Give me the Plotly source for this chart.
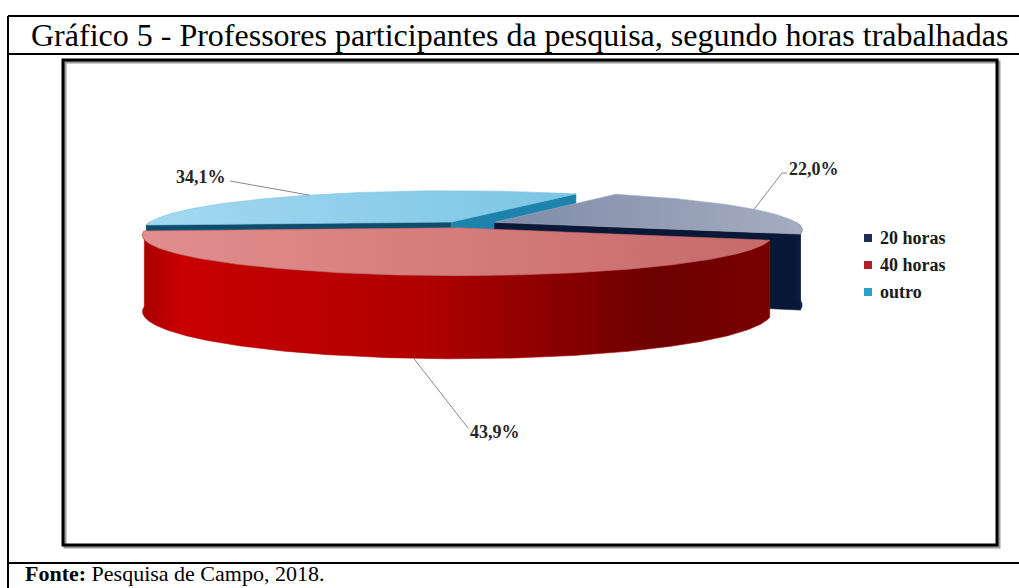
import numpy as np
import plotly.graph_objects as go

# ---- data -------------------------------------------------------------
categories = ["20 horas", "40 horas", "outro"]
shares = [22.0, 43.9, 34.1]          # percent of teachers
title_text = "Gráfico 5 - Professores participantes da pesquisa, segundo horas trabalhadas"
source_text = "<b>Fonte:</b> Pesquisa de Campo, 2018."

# ---- styling ----------------------------------------------------------
W, H = 1019, 588
FONT = "Liberation Serif, Times New Roman, serif"

top_colors = {
    "20 horas": ["#7f8aa6", "#a4adc2"],
    "40 horas": ["#e28e8e", "#c66a6a"],
    "outro": ["#a2d9f0", "#7cc5e5"],
}
wall_colors = {
    "20 horas": [[0, "#0b1a3e"], [1, "#0d1d44"]],
    "40 horas": [[0, "#a80000"], [0.06, "#c80000"], [0.45, "#b00000"],
                 [0.82, "#6c0000"], [1, "#7a0000"]],
    "outro": [[0, "#0f4f6e"], [1, "#0f4f6e"]],
}
face_colors = {
    "20 horas": ["#0a1838", "#0a1838"],
    "40 horas": ["#8a0000", "#8a0000"],
    "outro": ["#0e4e6c", "#1d83ab"],
}
legend_colors = {"20 horas": "#1e2c5a", "40 horas": "#b0202a", "outro": "#2aa0c8"}

# 3-D pie projection parameters (pixels)
CX, CY = 461, 224
RX, RY = 304, 37.7
PERSP = 0.18
DEPTH = 74
WALL_PERSP = 0.10
PULL = {"20 horas": 0.12, "40 horas": 0.10, "outro": 0.06}
START_ANGLE = 28.3  # degrees, clockwise from the back of the disc

# label anchors (text position) for each slice
label_pos = {"20 horas": (787, 169), "40 horas": (468, 432), "outro": (228, 177)}
label_anchor = {"20 horas": "left", "40 horas": "left", "outro": "right"}


def proj(X, Z, h=0.0):
    s = 1.0 / (1.0 + PERSP * Z)
    sh = 1.0 / (1.0 + WALL_PERSP * Z)
    return CX + RX * X * s, CY - RY * Z * s + h * sh


def poly(points):
    xs = [p[0] for p in points] + [points[0][0]]
    ys = [p[1] for p in points] + [points[0][1]]
    return xs, ys


fig = go.Figure()


def add_fill(xs, ys, colorscale=None, color=None):
    kw = dict(x=xs, y=ys, mode="lines", fill="toself",
              line=dict(width=0.6, color=color or colorscale[len(colorscale) // 2][1]),
              hoverinfo="skip", showlegend=False)
    if colorscale is not None:
        kw["fillgradient"] = dict(type="horizontal", colorscale=colorscale)
        kw["fillcolor"] = colorscale[0][1]
    else:
        kw["fillcolor"] = color
    fig.add_trace(go.Scatter(**kw))


total = sum(shares)
angles = []
a0 = START_ANGLE
for v in shares:
    a1 = a0 + 360.0 * v / total
    angles.append((a0, a1))
    a0 = a1

geo = {}
for cat, (p1, p2) in zip(categories, angles):
    mid = np.radians((p1 + p2) / 2)
    X0, Z0 = PULL[cat] * np.sin(mid), PULL[cat] * np.cos(mid)
    geo[cat] = (p1, p2, X0, Z0, mid)


def rim(cat, phi_deg, h=0.0):
    p1, p2, X0, Z0, _ = geo[cat]
    r = np.radians(phi_deg)
    return proj(X0 + np.sin(r), Z0 + np.cos(r), h)


def center(cat, h=0.0):
    _, _, X0, Z0, _ = geo[cat]
    return proj(X0, Z0, h)


# back slices first, front slice last
draw_order = ["outro", "20 horas", "40 horas"]
for cat in draw_order:
    p1, p2, X0, Z0, mid = geo[cat]
    # radial faces that turn toward the viewer
    if np.cos(np.radians(p1 - 90)) < 0:
        pts = [center(cat), rim(cat, p1), rim(cat, p1, DEPTH), center(cat, DEPTH)]
        add_fill(*poly(pts), color=face_colors[cat][0])
    if np.cos(np.radians(p2 + 90)) < 0:
        pts = [center(cat), rim(cat, p2), rim(cat, p2, DEPTH), center(cat, DEPTH)]
        add_fill(*poly(pts), color=face_colors[cat][1])
    # curved outer wall on the front half
    phis = np.linspace(p1, p2, 400)
    vis = np.cos(np.radians(phis)) < 0
    runs, cur = [], []
    for ph, v in zip(phis, vis):
        if v:
            cur.append(ph)
        elif cur:
            runs.append(cur)
            cur = []
    if cur:
        runs.append(cur)
    for run in runs:
        if len(run) < 2:
            continue
        top = [rim(cat, ph) for ph in run]
        bot = [rim(cat, ph, DEPTH) for ph in run[::-1]]
        add_fill(*poly(top + bot), colorscale=wall_colors[cat])
    # top face
    arc = [rim(cat, ph) for ph in np.linspace(p1, p2, 300)]
    c1, c2 = top_colors[cat]
    add_fill(*poly([center(cat)] + arc), colorscale=[[0, c1], [1, c2]])

# value labels with leader lines
annotations = []
for cat, v in zip(categories, shares):
    p1, p2, X0, Z0, mid = geo[cat]
    md = np.degrees(mid)
    h = DEPTH if np.cos(mid) < 0 else 0.0
    sx, sy = rim(cat, md, h)
    tx, ty = label_pos[cat]
    if cat == "20 horas":
        lx, ly = [sx, tx - 5, tx], [sy, ty + 4, ty + 4]
    elif cat == "outro":
        lx, ly = [sx, tx + 2], [sy, ty + 4]
    else:
        lx, ly = [sx, tx], [sy, ty - 4]
    fig.add_trace(go.Scatter(x=lx, y=ly, mode="lines",
                             line=dict(color="#8a8a8a", width=1),
                             hoverinfo="skip", showlegend=False))
    annotations.append(dict(x=tx, y=ty, text="<b>" + f"{v:.1f}%".replace(".", ",") + "</b>",
                            showarrow=False, xanchor=label_anchor[cat], yanchor="middle",
                            font=dict(family=FONT, size=18, color="#262626")))

# legend
leg_x, leg_y0, leg_dy = 868, 238, 27
fig.add_trace(go.Scatter(
    x=[leg_x] * len(categories),
    y=[leg_y0 + i * leg_dy for i in range(len(categories))],
    mode="markers",
    marker=dict(symbol="square", size=8, color=[legend_colors[c] for c in categories]),
    hoverinfo="skip", showlegend=False))
for i, cat in enumerate(categories):
    annotations.append(dict(x=leg_x + 10, y=leg_y0 + i * leg_dy, text="<b>" + cat + "</b>",
                            showarrow=False, xanchor="left", yanchor="middle",
                            font=dict(family=FONT, size=18, color="#1a1a1a")))

# title and source
annotations.append(dict(x=519.5, y=35, text=title_text, showarrow=False,
                        xanchor="center", yanchor="middle",
                        font=dict(family=FONT, size=32, color="black")))
annotations.append(dict(x=23, y=588, text=source_text, showarrow=False,
                        xanchor="left", yanchor="bottom",
                        font=dict(family=FONT, size=22, color="black")))

shapes = [
    # document frame
    dict(type="line", x0=8, x1=W + 5, y0=16, y1=16, line=dict(color="black", width=2)),
    dict(type="line", x0=8, x1=8, y0=16, y1=H + 5, line=dict(color="black", width=2)),
    dict(type="line", x0=8, x1=W + 5, y0=54, y1=54, line=dict(color="black", width=2)),
    dict(type="line", x0=8, x1=W + 5, y0=563, y1=563, line=dict(color="black", width=2)),
    # chart area box with a soft shadow
    dict(type="rect", x0=65, x1=999, y0=62, y1=547, line=dict(color="#9a9a9a", width=3)),
    dict(type="rect", x0=63, x1=997, y0=60, y1=545, line=dict(color="black", width=3)),
]

fig.update_layout(
    width=W, height=H, margin=dict(l=0, r=0, t=0, b=0),
    paper_bgcolor="white", plot_bgcolor="white",
    xaxis=dict(range=[0, W], visible=False, fixedrange=True),
    yaxis=dict(range=[H, 0], visible=False, fixedrange=True),
    annotations=annotations, shapes=shapes, showlegend=False,
)
fig.write_html("out.html")
